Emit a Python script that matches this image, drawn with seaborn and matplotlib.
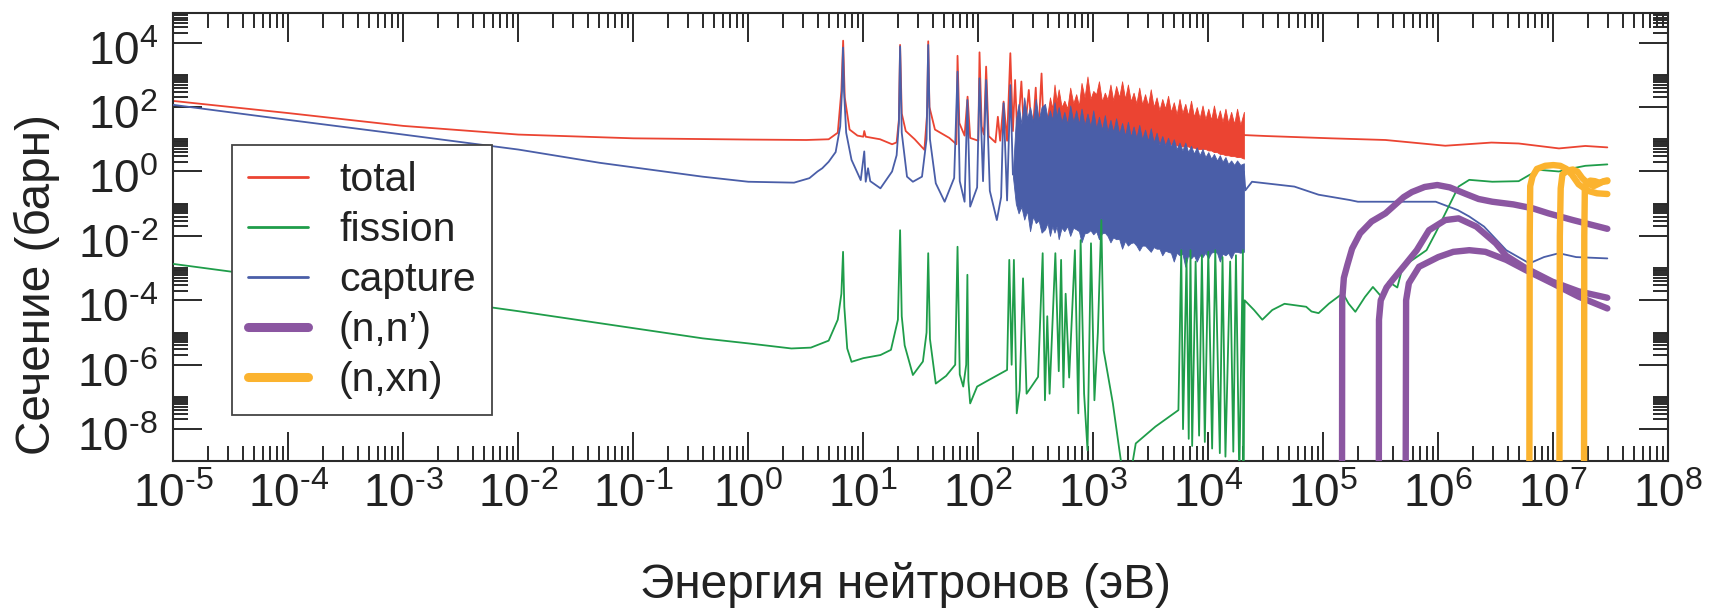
import numpy as np
import matplotlib
matplotlib.use("Agg")
import matplotlib.pyplot as plt
import matplotlib.transforms as mtransforms
import seaborn as sns
from matplotlib.lines import Line2D
from matplotlib.ticker import FixedLocator, NullFormatter

# ---------------- data (energy in eV, cross section in barn) ----------------
total_E = [1e-5, 1e-4, 1e-3, 1e-2, 0.1, 1.0, 3.2, 5.0, 6.0, 6.45, 6.68, 6.9, 7.6, 8.9, 10.0, 10.2, 10.5,
           14, 17.8, 19.5, 20.4, 20.9, 21.6, 23.4, 28, 34, 35.9, 36.7, 37.6, 42, 56, 64.5, 66, 68.4, 76,
           80.7, 85, 100, 102.5, 107, 112, 117, 123, 141, 148, 155, 166, 178, 190, 200, 209, 219, 237,
           251, 275, 295, 316, 331, 355, 372]
total_xs = [155, 65, 26, 14, 10.7, 9.8, 9.5, 10, 16, 320, 11500, 200, 20, 13, 12, 18, 12,
            10, 7, 8, 40, 8500, 63, 18, 10, 4.7, 63, 11000, 100, 20, 11, 7, 3900, 32, 13,
            210, 11, 9, 5000, 25, 14, 1800, 12.6, 8, 50, 9, 148, 9, 4700, 18, 690, 10, 620,
            11, 340, 10, 400, 10, 1100, 12.6]
total_hi_E = [2.04e4, 3.2e4, 1.17e5, 3.47e5, 1.15e6, 2.9e6, 5.0e6, 1.12e7, 1.9e7, 2.95e7]
total_hi_xs = [13.5, 12.6, 10.7, 9.5, 6.3, 7.9, 7.4, 5.2, 6.2, 5.6]

band_E = [380, 400, 420, 440, 460, 480, 500, 530, 560, 595, 630, 670, 710, 750, 790, 840, 890, 945,
          1000, 1060, 1120, 1190, 1260, 1330, 1410, 1490, 1580, 1680, 1780, 1890, 2000, 2120,
          2240, 2370, 2510, 2660, 2820, 2990, 3160, 3350, 3550, 3760, 3980, 4220, 4470, 4730,
          5010, 5310, 5620, 5960, 6310, 6680, 7080, 7500, 7940, 8410, 8910, 9440, 1.0e4, 1.06e4,
          1.12e4, 1.19e4, 1.26e4, 1.33e4, 1.41e4, 1.49e4, 1.58e4, 1.68e4, 1.78e4, 1.9e4, 2.04e4]
total_band_hi = [12, 60, 200, 90, 500, 150, 355, 100, 158, 90, 400, 130, 251, 110, 560, 200, 890,
                 180, 316, 250, 630, 150, 280, 170, 500, 160, 450, 200, 630, 180, 500, 150,
                 280, 130, 400, 120, 251, 110, 355, 100, 200, 80, 178, 90, 224, 70, 141, 60,
                 178, 65, 126, 55, 158, 50, 100, 45, 112, 42, 89, 40, 112, 38, 79, 35, 89, 32,
                 71, 30, 89, 28, 71]
total_band_lo = [11, 10, 10, 10, 10, 10, 10, 10, 10, 10, 10, 10, 10, 10, 10, 10, 10, 10,
                 10, 10, 10, 10, 10, 10, 9.5, 9.5, 9.5, 9.5, 9, 9, 9, 9,
                 8.5, 8.5, 8.5, 8.5, 8, 8, 8, 8, 7.5, 7.5, 7, 7, 7, 7,
                 6.5, 6.5, 6, 6, 6, 6, 5.5, 5.5, 5, 5, 5, 5, 4.5, 4.5,
                 4, 4, 3.5, 3.5, 3.2, 3.2, 3, 3, 2.8, 2.8, 2.5]

capture_E = [1e-5, 1e-4, 1e-3, 1e-2, 0.051, 0.4, 1.0, 2.5, 3.4, 4.0, 4.4, 5.0, 5.75, 6.3, 6.53, 6.67,
             6.8, 7.1, 7.9, 9.5, 10.2, 10.5, 11.0, 11.5, 14.1, 17.8, 19.5, 20.4, 20.9, 21.6, 24, 27,
             32.4, 35.5, 36.7, 38, 42.7, 51, 61.7, 66, 69, 76, 80.4, 85, 97.7, 102.5, 110, 117, 126,
             145, 158, 166, 178, 190, 200]
capture_xs = [117, 40, 14, 4.8, 1.86, 0.69, 0.48, 0.45, 0.62, 1.0, 1.26, 2.0, 4.0, 25, 320, 7000,
              320, 16, 2.3, 0.54, 4.2, 0.48, 1.26, 0.5, 0.30, 1.0, 3.2, 32, 7600, 16, 0.69, 0.48,
              0.69, 10, 8500, 10, 0.43, 0.115, 0.63, 1260, 0.5, 0.115, 166, 0.081, 0.32, 780, 0.5, 690, 0.25,
              0.031, 0.16, 132, 0.126, 480, 0.8]
capture_band_E = [200, 212, 224, 237, 251, 266, 282, 299, 316, 335, 355] + band_E
capture_band_hi = [1.0, 40, 126, 30, 200, 45, 100, 35, 178, 40, 100,
                   126, 45, 79, 40, 141, 50, 100, 35, 71, 30, 112, 35, 79, 30, 89, 28, 63,
                   25, 79, 22, 50, 20, 56, 18, 40, 17, 45, 15, 32, 13, 35, 12, 25, 11,
                   28, 10, 20, 9, 22, 8, 16, 7, 12.6, 6.5, 11.2, 6, 10, 5, 7.9, 4.5, 7.9, 4,
                   6.3, 3.6, 5.6, 3.2, 5.0, 2.8, 4.0, 2.5, 3.5, 2.2, 3.2, 2.0, 2.8, 1.7,
                   2.2, 1.6, 2.2, 1.6, 1.8]
capture_band_lo = [0.7, 0.1, 0.05, 0.08, 0.032, 0.06, 0.014, 0.04, 0.025, 0.03, 0.0126,
                   0.016, 0.025, 0.01, 0.02, 0.0126, 0.02, 0.0079, 0.018, 0.014, 0.02, 0.01,
                   0.018, 0.016, 0.014, 0.0063, 0.012, 0.0126, 0.015,
                   0.0112, 0.014, 0.0079, 0.012, 0.0126, 0.01, 0.0063, 0.009, 0.0079, 0.008,
                   0.004, 0.007, 0.005, 0.006, 0.0063, 0.005, 0.0035, 0.005, 0.005, 0.004,
                   0.0032, 0.0045, 0.004, 0.004, 0.0025, 0.0035, 0.0032, 0.003, 0.0016, 0.003,
                   0.0025, 0.0028, 0.0011, 0.0025, 0.002, 0.0025, 0.0016, 0.0025, 0.0022, 0.003,
                   0.002, 0.003, 0.0032, 0.003, 0.0016, 0.0028, 0.0025, 0.003, 0.002, 0.0032,
                   0.0032, 0.003, 0.0032]
capture_hi_E = [2.04e4, 2.1e4, 2.4e4, 5.6e4, 9.1e4, 1.7e5, 2.0e5, 9.5e5, 1.48e6, 1.86e6, 2.5e6,
                3.9e6, 6.2e6, 8.3e6, 1.12e7, 1.58e7, 2.95e7]
capture_hi_xs = [1.0, 0.26, 0.48, 0.34, 0.19, 0.13, 0.115, 0.115, 0.063, 0.04, 0.0195,
                 0.0036, 0.0014, 0.0022, 0.0029, 0.0022, 0.002]

# fission, in consecutive energy segments
fis_thermal_E = [1e-5, 1e-4, 1e-3, 1e-2, 0.051, 0.4, 1.0, 2.37, 3.5, 5.0, 6.0, 6.45, 6.67, 6.84, 7.25, 7.9]
fis_thermal_xs = [1.35e-3, 4.5e-4, 1.45e-4, 4.6e-5, 1.95e-5, 6.6e-6, 4.6e-6, 3.2e-6, 3.4e-6, 5.6e-6,
                  2.5e-5, 1.6e-4, 3.2e-3, 6.3e-5, 3.2e-6, 1.23e-6]
fis_res1_E = [10, 14.1, 17.4, 20, 20.9, 21.6, 22.9, 27, 33, 35.5, 36.7, 38, 42.7, 52.5, 63, 66, 69]
fis_res1_xs = [1.6e-6, 2.0e-6, 2.9e-6, 2.5e-5, 0.015, 3.2e-5, 4.0e-6, 4.8e-7, 1.26e-6, 1.0e-5, 2.9e-3,
               6.3e-6, 2.6e-7, 4.5e-7, 1.0e-6, 4.6e-3, 5.0e-7]
fis_res2_E = [74, 78.5, 80.4, 82, 85, 97.7, 126, 178, 186, 195, 204, 216, 229, 245, 263, 331, 363]
fis_res2_xs = [2.1e-7, 1.0e-6, 6.2e-4, 3.2e-7, 6.3e-8, 2.1e-7, 3.5e-7, 6.9e-7, 1.8e-3, 1.0e-6, 1.8e-3,
               3.1e-8, 1.6e-7, 4.8e-4, 1.26e-7, 4.2e-7, 2.9e-3]
fis_res3_E = [380, 398, 417, 468, 501, 525, 550, 575, 617, 692, 741, 776, 832, 891, 955, 1023, 1096]
fis_res3_xs = [7.9e-8, 3.2e-5, 1.26e-7, 2.9e-3, 6.3e-7, 1.8e-3, 2.0e-7, 1.6e-4, 4.0e-7, 3.6e-3, 3.1e-8,
               7.4e-3, 1.26e-7, 2.2e-9, 5.9e-3, 7.9e-8, 1.0e-5]
fis_res4_E = [1175, 1230, 1480, 1820, 2090, 2340, 3470]
fis_res4_xs = [0.031, 2.8e-6, 6.3e-8, 3.2e-10, 3.2e-10, 3.6e-9, 1.2e-8]
fis_res5_E = [5500, 5820, 6030, 6470, 6760, 7000, 7240, 7760, 8320, 8800, 9330, 1.0e4, 1.08e4, 1.15e4,
              1.26e4, 1.33e4, 1.41e4, 1.55e4, 1.65e4, 1.74e4, 1.86e4, 2.0e4, 2.02e4, 2.07e4]
fis_res5_xs = [3.9e-8, 3.6e-3, 1.0e-8, 2.0e-3, 5.0e-9, 3.6e-3, 3.0e-9, 1.6e-3, 6.3e-9, 2.5e-3, 4.0e-9,
               3.2e-3, 2.5e-9, 3.6e-3, 1.8e-9, 2.2e-3, 1.4e-9, 1.6e-3, 2.0e-9, 2.5e-3, 3.2e-10,
               3.6e-3, 3.2e-10, 1.0e-4]
fis_fast_E = [2.5e4, 2.95e4, 3.6e4, 4.6e4, 5.6e4, 7.1e4, 7.9e4, 9.1e4, 1.12e5, 1.48e5, 1.66e5,
              1.9e5, 2.3e5, 2.7e5, 3.2e5, 3.7e5, 4.4e5, 4.9e5, 7.9e5, 9.5e5, 1.15e6, 1.5e6, 1.86e6,
              2.95e6, 5.0e6, 6.2e6, 7.6e6, 1.12e7, 1.48e7, 1.9e7, 2.95e7]
fis_fast_xs = [5.0e-5, 2.5e-5, 5.0e-5, 7.8e-5, 7.1e-5, 6.3e-5, 4.5e-5, 4.0e-5, 7.9e-5, 1.66e-4, 7.9e-5,
               4.4e-5, 1.26e-4, 2.6e-4, 1.3e-4, 3.8e-4, 2.5e-4, 1.1e-3, 3.6e-3, 0.0126, 0.05, 0.34, 0.55,
               0.48, 0.5, 0.78, 1.12, 1.0, 1.26, 1.5, 1.66]
fission_E = fis_thermal_E + fis_res1_E + fis_res2_E + fis_res3_E + fis_res4_E + fis_res5_E + fis_fast_E
fission_xs = (fis_thermal_xs + fis_res1_xs + fis_res2_xs + fis_res3_xs + fis_res4_xs + fis_res5_xs
              + fis_fast_xs)

inel_a_E = [1.455e5, 1.46e5, 1.51e5, 1.62e5, 1.78e5, 2.09e5, 2.63e5, 3.47e5, 5.0e5, 5.9e5, 7.6e5,
            9.8e5, 1.26e6, 1.74e6, 2.24e6, 2.95e6, 4.5e6, 6.6e6, 9.1e6, 1.48e7, 2.95e7]
inel_a_xs = [1e-10, 1e-4, 5e-4, 1.26e-3, 4e-3, 0.012, 0.028, 0.05, 0.16, 0.23, 0.33,
             0.38, 0.32, 0.2, 0.14, 0.115, 0.095, 0.072, 0.05, 0.031, 0.0166]
inel_b_E = [3.04e5, 3.05e5, 3.16e5, 3.55e5, 4.0e5, 5.25e5, 6.5e5, 8.3e5, 1.15e6, 1.5e6, 2.14e6,
            3.16e6, 3.9e6, 5.75e6, 9.8e6, 1.66e7, 2.95e7]
inel_b_xs = [1e-10, 2.5e-5, 1.0e-4, 2.5e-4, 4.3e-4, 1.4e-3, 3.6e-3, 0.015, 0.031, 0.035, 0.0195,
             5.9e-3, 2.4e-3, 1.0e-3, 3.8e-4, 1.9e-4, 1.2e-4]
inel_c_E = [5.2e5, 5.25e5, 5.55e5, 6.8e5, 1.0e6, 1.35e6, 1.86e6, 2.57e6, 3.9e6, 5.75e6, 9.8e6,
            1.66e7, 2.95e7]
inel_c_xs = [1e-10, 1.0e-4, 3.4e-4, 1.1e-3, 2.2e-3, 3.2e-3, 3.6e-3, 3.2e-3, 1.8e-3, 8.7e-4, 3.4e-4,
             1.3e-4, 5.6e-5]

nxn_a_E = [6.19e6, 6.24e6, 6.3e6, 6.6e6, 7.2e6, 8.5e6, 1.0e7, 1.15e7, 1.3e7, 1.45e7, 1.66e7, 2.0e7,
           2.4e7, 2.95e7]
nxn_a_xs = [1e-10, 0.01, 0.35, 0.7, 1.2, 1.5, 1.58, 1.5, 1.2, 0.8, 0.4, 0.25, 0.21, 0.2]
nxn_b_E = [1.13e7, 1.14e7, 1.16e7, 1.2e7, 1.32e7, 1.48e7, 1.62e7, 1.78e7, 2.0e7, 2.24e7, 2.5e7,
           2.75e7, 2.95e7]
nxn_b_xs = [1e-10, 0.01, 0.3, 0.8, 1.07, 1.15, 1.0, 0.63, 0.42, 0.35, 0.42, 0.5, 0.53]
nxn_c_E = [1.85e7, 1.86e7, 1.88e7, 1.95e7, 2.1e7, 2.3e7, 2.5e7, 2.7e7, 2.95e7]
nxn_c_xs = [1e-10, 0.01, 0.25, 0.45, 0.52, 0.5, 0.45, 0.48, 0.5]

legend_labels = ["total", "fission", "capture", "(n,n\u2019)", "(n,xn)"]
x_tick_exponents = [-5, -4, -3, -2, -1, 0, 1, 2, 3, 4, 5, 6, 7, 8]
y_tick_exponents = [-8, -6, -4, -2, 0, 2, 4]

# ---------------- style ----------------
RED, GREEN, BLUE, PURPLE, ORANGE = "#eb4432", "#1f9d4a", "#4a5ea8", "#8b56a1", "#fbb32f"
INK = "#222222"
TICKC = "#2a2a2a"
THIN, THICK = 1.3, 4.6
MAJ, MIN = 21, 10.5

sns.set_theme(style="white")
plt.rcParams["font.family"] = ["Liberation Sans", "DejaVu Sans"]
plt.rcParams["mathtext.fontset"] = "custom"
plt.rcParams["mathtext.rm"] = "Liberation Sans"
plt.rcParams["mathtext.it"] = "Liberation Sans:italic"
plt.rcParams["mathtext.bf"] = "Liberation Sans:bold"
plt.rcParams["mathtext.sf"] = "Liberation Sans"
plt.rcParams.update({
    "xtick.major.size": MAJ, "ytick.major.size": MAJ,
    "xtick.minor.size": MIN, "ytick.minor.size": MIN,
    "xtick.major.width": 1.4, "ytick.major.width": 1.4,
    "xtick.minor.width": 1.4, "ytick.minor.width": 1.4,
    "xtick.direction": "in", "ytick.direction": "in",
    "xtick.top": True, "xtick.bottom": True, "ytick.left": True, "ytick.right": True,
    "xtick.minor.visible": True, "ytick.minor.visible": True,
})

fig = plt.figure(figsize=(17.19, 6.08), dpi=100)
ax = fig.add_axes([0.1008, 0.2423, 0.8697, 0.7368])
ax.set_xscale("log")
ax.set_yscale("log")


def line(x, y, color, lw, z):
    sns.lineplot(x=x, y=y, ax=ax, sort=False, estimator=None, color=color,
                 linewidth=lw, zorder=z, legend=False)


# total
line(total_E, total_xs, RED, THIN, 2)
ax.fill_between(band_E, total_band_lo, total_band_hi, color=RED, lw=0.6, zorder=2)
line(total_hi_E, total_hi_xs, RED, THIN, 2)
# capture
line(capture_E, capture_xs, BLUE, THIN, 3)
ax.fill_between(capture_band_E, capture_band_lo, capture_band_hi, color=BLUE, lw=0.6, zorder=3)
line(capture_hi_E, capture_hi_xs, BLUE, THIN, 3)
# fission
line(fission_E, fission_xs, GREEN, THIN, 4)
# (n,n')
for xe, ys in [(inel_a_E, inel_a_xs), (inel_b_E, inel_b_xs), (inel_c_E, inel_c_xs)]:
    line(xe, ys, PURPLE, THICK, 5)
# (n,xn)
for xe, ys in [(nxn_a_E, nxn_a_xs), (nxn_b_E, nxn_b_xs), (nxn_c_E, nxn_c_xs)]:
    line(xe, ys, ORANGE, THICK, 6)

ax.set_xlim(1e-5, 1e8)
ax.set_ylim(1.05e-9, 8.5e4)

# ticks
def exp_label(e):
    return r"$\mathregular{10^{%s}}$" % (r"\text{-}%d" % -e if e < 0 else "%d" % e)

xt = [10.0 ** e for e in x_tick_exponents]
ax.xaxis.set_major_locator(FixedLocator(xt))
ax.set_xticklabels([exp_label(e) for e in x_tick_exponents])
ax.xaxis.set_minor_locator(FixedLocator([k * 10.0 ** e for e in x_tick_exponents[:-1]
                                         for k in range(2, 10)]))
ax.xaxis.set_minor_formatter(NullFormatter())
yt = [10.0 ** e for e in y_tick_exponents]
ax.yaxis.set_major_locator(FixedLocator(yt))
ax.set_yticklabels([exp_label(e) for e in y_tick_exponents])
ax.yaxis.set_minor_locator(FixedLocator([k * 10.0 ** e for e in y_tick_exponents
                                         for k in range(2, 11)]))
ax.yaxis.set_minor_formatter(NullFormatter())

for sp in ax.spines.values():
    sp.set_color(TICKC)
    sp.set_linewidth(1.5)
ax.grid(False)

ax.set_xlabel("Энергия нейтронов (эВ)", fontsize=34.4, color=INK)
ax.xaxis.label.set_va("baseline")
ax.xaxis.set_label_coords(0.4901, -0.3065)
ax.set_ylabel("Сечение (барн)", fontsize=34.4, color=INK)
ax.yaxis.label.set_va("baseline")
ax.yaxis.set_label_coords(-0.0825, 0.3944)

handles = [Line2D([], [], color=RED, lw=2.0), Line2D([], [], color=GREEN, lw=2.0),
           Line2D([], [], color=BLUE, lw=2.0), Line2D([], [], color=PURPLE, lw=6.5),
           Line2D([], [], color=ORANGE, lw=6.5)]
leg = ax.legend(handles, legend_labels, loc="upper left", bbox_to_anchor=(0.039, 0.7047),
                borderaxespad=0, frameon=True, fancybox=False, edgecolor="#444444",
                framealpha=1, fontsize=29.5, handlelength=1.46, handletextpad=0.76,
                labelspacing=0.29, borderpad=0.4)
leg.get_frame().set_linewidth(1.3)
for t in leg.get_texts():
    t.set_color(INK)
leg.set_zorder(10)

ax.tick_params(which="both", direction="in", top=True, right=True, bottom=True, left=True,
               color=TICKC, width=1.4, labelcolor=INK)
ax.tick_params(which="major", length=MAJ, labelsize=33)
ax.tick_params(which="minor", length=MIN)
ax.tick_params(axis="x", which="major", pad=9)
ax.tick_params(axis="y", which="major", pad=11)

# make sure tick mark sizes are applied, and nudge y tick labels down a little
fig.canvas.draw()
for axis in (ax.xaxis, ax.yaxis):
    for t in axis.get_major_ticks():
        t.tick1line.set_markersize(MAJ)
        t.tick2line.set_markersize(MAJ)
    for t in axis.get_minor_ticks():
        t.tick1line.set_markersize(MIN)
        t.tick2line.set_markersize(MIN)
shift = mtransforms.ScaledTranslation(0, -5 / 100, fig.dpi_scale_trans)
for t in ax.yaxis.get_major_ticks():
    t.label1.set_transform(t.label1.get_transform() + shift)

fig.savefig("out.png", dpi=100)
